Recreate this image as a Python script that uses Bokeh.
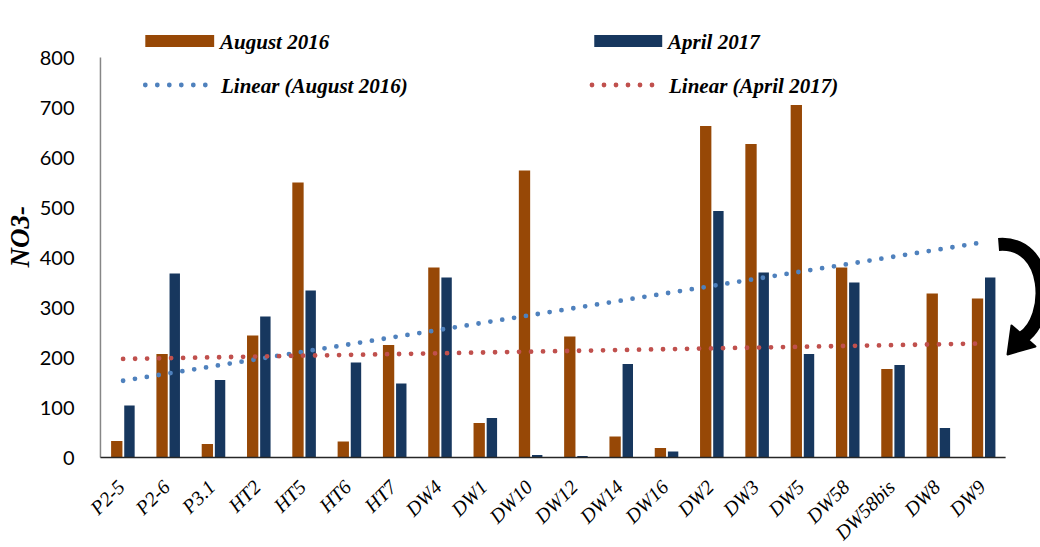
import numpy as np
from math import pi
from bokeh.plotting import figure
from bokeh.models import Range1d, FixedTicker, Title
from bokeh.core.properties import value
from bokeh.embed import file_html
from bokeh.resources import INLINE

# ---------------- data ----------------
sites = ["P2-5", "P2-6", "P3.1", "HT2", "HT5", "HT6", "HT7", "DW4", "DW1", "DW10",
         "DW12", "DW14", "DW16", "DW2", "DW3", "DW5", "DW58", "DW58bis", "DW8", "DW9"]
aug_2016 = [33, 207, 27, 244, 550, 32, 225, 380, 69, 574,
            242, 42, 19, 663, 627, 705, 380, 177, 328, 318]
apr_2017 = [104, 368, 155, 282, 334, 190, 148, 360, 79, 5,
            3, 187, 12, 493, 370, 207, 350, 185, 59, 360]
y_ticks = [0, 100, 200, 300, 400, 500, 600, 700, 800]
series_names = ["August 2016", "April 2017"]
trend_names = ["Linear (August 2016)", "Linear (April 2017)"]

AUG = "#974806"
APR = "#17375E"
AUG_TREND = "#4F81BD"
APR_TREND = "#C0504D"
SERIF = value("Liberation Serif")

idx = np.arange(len(sites))

p = figure(width=1040, height=547, output_backend="svg", toolbar_location=None,
           x_range=Range1d(-0.786, 20.25), y_range=Range1d(-180, 860),
           min_border_left=85, min_border_right=0, min_border_top=27,
           min_border_bottom=0)
p.outline_line_color = None
p.grid.visible = False
p.background_fill_color = "white"

# bars
p.vbar(x=idx - 0.14, top=aug_2016, width=0.25, fill_color=AUG, line_color=None)
p.vbar(x=idx + 0.14, top=apr_2017, width=0.23, fill_color=APR, line_color=None)

# linear trend lines (least squares fit of each series)
for vals, col in ((aug_2016, AUG_TREND), (apr_2017, APR_TREND)):
    k, b = np.polyfit(idx, vals, 1)
    xs = [idx[0], idx[-1]]
    p.line(xs, [k * x + b for x in xs], line_color=col, line_width=4.8,
           line_dash="0 12", line_cap="round")

# axis lines drawn manually (y axis stops at 800)
p.segment(x0=[-0.5], y0=[0], x1=[-0.5], y1=[800], line_color="#868686", line_width=1.5)
p.segment(x0=[-0.5], y0=[0], x1=[19.48], y1=[0], line_color="#262626", line_width=1.5)

# category labels, rotated 45 degrees, right end under each category
p.xaxis.visible = False
p.text(x=idx, y=[0] * len(sites), text=sites, angle=pi / 4,
       text_align="right", text_baseline="middle", x_offset=-2, y_offset=26,
       text_font=SERIF, text_font_style="italic", text_font_size="20px",
       text_color="black")

p.yaxis.ticker = FixedTicker(ticks=y_ticks)
p.yaxis.axis_line_color = None
p.yaxis.major_tick_line_color = None
p.yaxis.minor_tick_line_color = None
p.yaxis.major_label_text_font = "Lato"
p.yaxis.major_label_text_font_size = "20px"
p.yaxis.major_label_text_color = "black"
p.yaxis.major_label_standoff = 7

ytitle = Title(text="NO3-", align="left", offset=280, standoff=4,
               text_font="Liberation Serif", text_font_style="bold italic",
               text_font_size="27px", text_color="black")
p.add_layout(ytitle, "left")

# legend (drawn in data space at the top of the frame)
p.quad(left=[0.49, 10.40], right=[2.01, 11.90], bottom=[821, 821], top=[845, 845],
       fill_color=[AUG, APR], line_color=None)
p.text(x=[2.14, 12.03], y=[832, 832], text=series_names, text_font=SERIF,
       text_font_style="bold italic", text_font_size="21px", text_baseline="middle",
       text_color="black")
p.line([0.49, 1.84], [745, 745], line_color=AUG_TREND, line_width=4.8,
       line_dash="0 12", line_cap="round")
p.line([10.35, 11.70], [745, 745], line_color=APR_TREND, line_width=4.8,
       line_dash="0 12", line_cap="round")
p.text(x=[2.16, 12.05], y=[744, 744], text=trend_names, text_font=SERIF,
       text_font_style="bold italic", text_font_size="21px", text_baseline="middle",
       text_color="black")

# curved black arrow at the right edge
def px(X, Y):
    return (X - 120.7) / 45.4, (457 - Y) * 2

s = px(998, 244); c0 = px(1050, 240); c1 = px(1052, 318); e = px(1022, 337)
p.bezier(x0=[s[0]], y0=[s[1]], x1=[e[0]], y1=[e[1]], cx0=[c0[0]], cy0=[c0[1]],
         cx1=[c1[0]], cy1=[c1[1]], line_color="black", line_width=13)
head = [px(1007, 354), px(1035, 346), px(1011, 325)]
p.patch([h[0] for h in head], [h[1] for h in head], fill_color="black", line_color="black",
        line_width=2, line_join="round")

open("out.html", "w").write(file_html(p, INLINE))
